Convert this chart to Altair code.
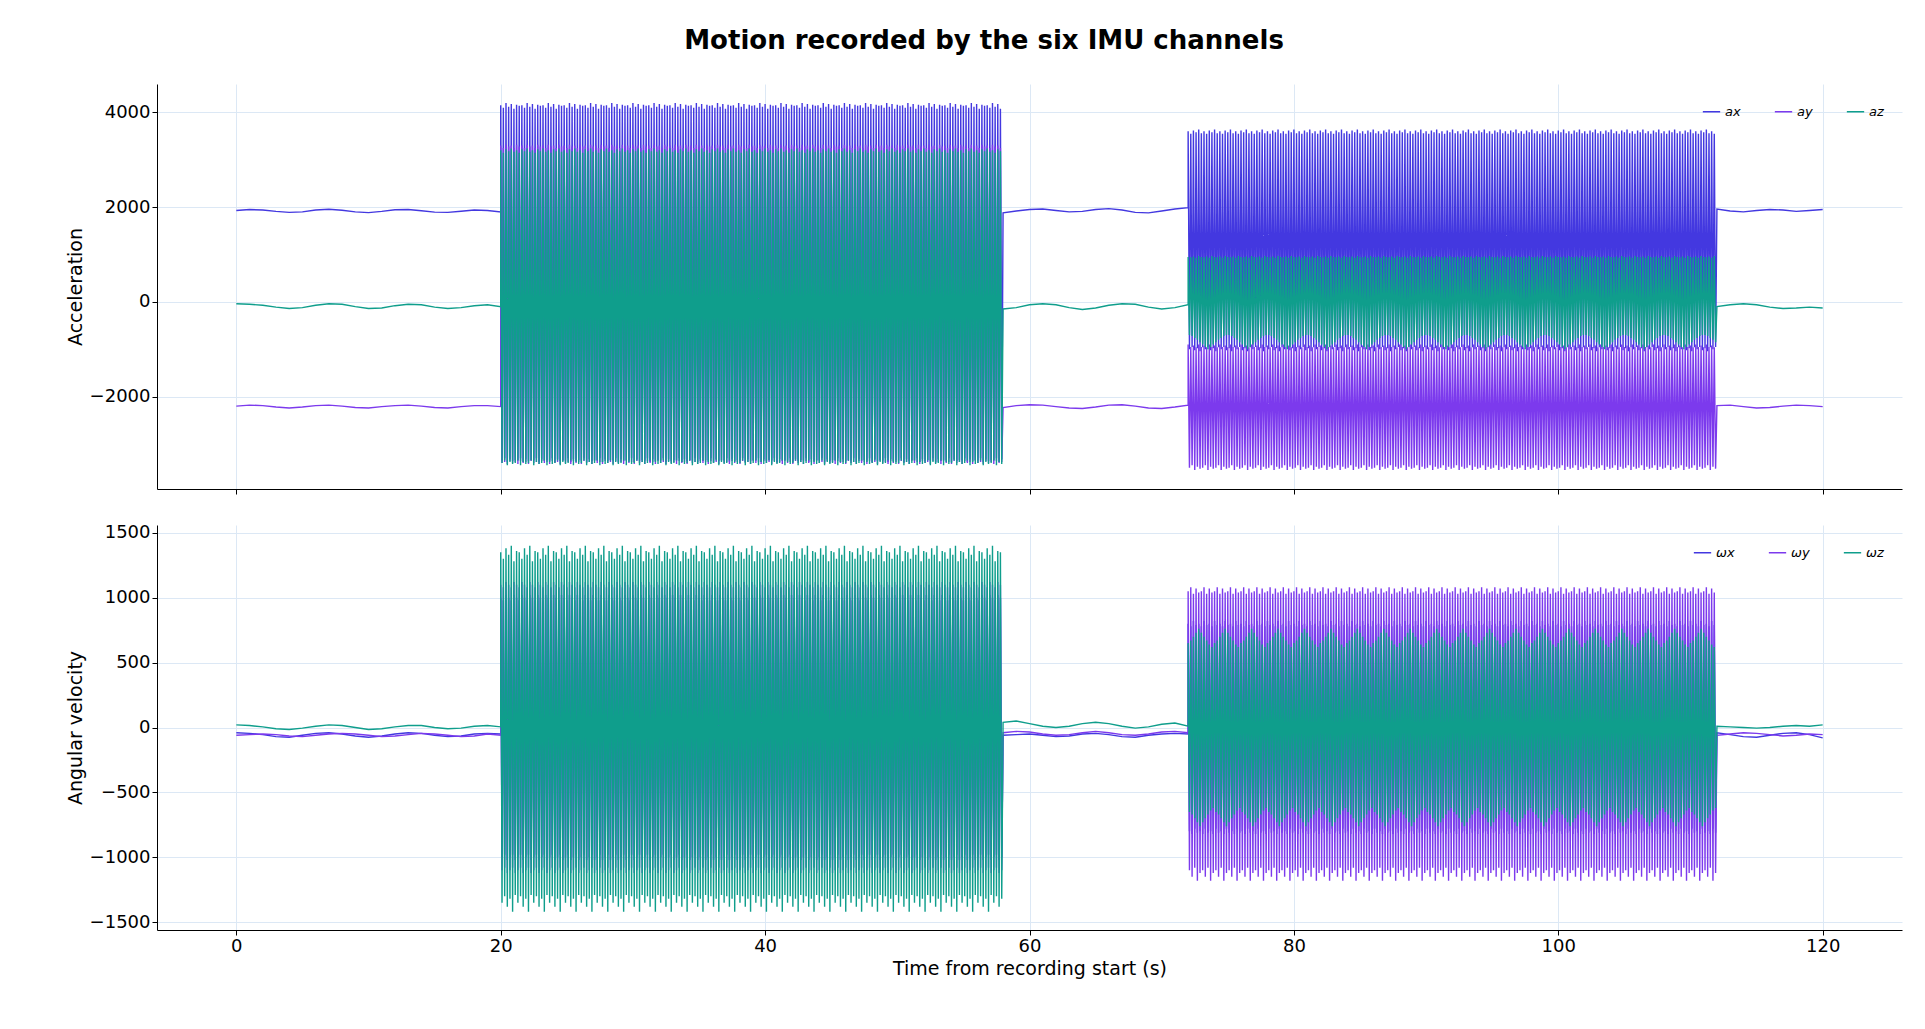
import altair as alt
import numpy as np
import pandas as pd

# segment boundaries (s)
quiet_t = [(0, 20), (58, 72), (112, 120)]
burst_t = [(20, 58), (72, 112)]

# quiet-segment readings, one value per second
ax_q = [[1930, 1950, 1940, 1910, 1890, 1900, 1940, 1955, 1935, 1900, 1885, 1910, 1945, 1950, 1925, 1895, 1890, 1915, 1940, 1930, 1900],
        [1880, 1920, 1950, 1960, 1930, 1900, 1910, 1950, 1970, 1940, 1890, 1880, 1920, 1960, 1990],
        [1960, 1920, 1900, 1930, 1950, 1940, 1910, 1930, 1950]]
ay_q = [[-2200, -2180, -2190, -2220, -2240, -2220, -2190, -2180, -2200, -2230, -2240, -2210, -2190, -2180, -2200, -2230, -2240, -2210, -2190, -2190, -2210],
        [-2230, -2190, -2170, -2180, -2210, -2240, -2250, -2220, -2180, -2170, -2200, -2240, -2250, -2220, -2180],
        [-2190, -2180, -2210, -2240, -2230, -2200, -2180, -2190, -2210]]
az_q = [[-40, -50, -70, -110, -140, -120, -70, -40, -50, -100, -140, -130, -80, -50, -60, -110, -140, -120, -80, -60, -100],
        [-150, -120, -60, -40, -60, -120, -160, -130, -70, -40, -50, -110, -150, -120, -60],
        [-100, -60, -40, -60, -110, -140, -130, -110, -130]]
wx_q = [[-40, -45, -55, -70, -75, -60, -45, -40, -50, -65, -75, -65, -50, -40, -45, -60, -70, -65, -50, -45, -50],
        [-60, -55, -50, -60, -70, -65, -50, -45, -55, -70, -75, -60, -50, -45, -50],
        [-40, -55, -70, -75, -60, -45, -40, -55, -80]]
wy_q = [[-60, -55, -50, -55, -65, -70, -60, -50, -45, -50, -60, -70, -65, -55, -45, -50, -60, -70, -65, -50, -60],
        [-40, -30, -35, -50, -60, -55, -40, -30, -40, -55, -60, -50, -35, -30, -40],
        [-60, -50, -40, -45, -55, -65, -60, -50, -55]]
wz_q = [[20, 15, 5, -10, -15, -5, 10, 20, 15, 0, -15, -10, 5, 15, 15, 0, -10, -5, 10, 15, 5],
        [40, 50, 30, 10, 0, 10, 30, 40, 30, 10, -5, 5, 25, 35, 10],
        [10, 5, 0, -5, 0, 10, 15, 10, 20]]

# burst envelopes: successive peak / trough readings, reused cycle after cycle
ax_hi = [[4150, 4100, 4200, 4120, 4180, 4080, 4160, 4140], [3600, 3550, 3620, 3580, 3640, 3560]]
ax_lo = [[-3350, -3300, -3380, -3320, -3360, -3340], [-1000, -950, -1020, -980, -1040, -960]]
ay_hi = [[3300, 3250, 3320, 3280], [-900, -950, -920, -960]]
ay_lo = [[-3400, -3380, -3420, -3360], [-3500, -3450, -3550, -3480, -3520]]
az_hi = [[3200, 3150, 3220, 3180, 3240, 3170], [950, 940, 960, 930, 970]]
az_lo = [[-3400, -3350, -3450, -3380, -3420],
         [-700, -720, -760, -800, -850, -900, -950, -1000, -950, -900, -850, -800, -760, -720, -700]]
wx_hi = [[1000, 980, 1020], [800, 780, 820, 790]]
wx_lo = [[-1000, -980, -1020], [-800, -820, -780, -810]]
wy_hi = [[1100, 1080, 1120], [1050, 1080, 1030, 1070, 1040]]
wy_lo = [[-1100, -1080, -1120], [-1100, -1150, -1080, -1180, -1120]]
wz_hi = [[1350, 1300, 1380, 1330, 1400, 1280, 1360], [650, 670, 700, 730, 760, 730, 700, 670, 640, 620]]
wz_lo = [[-1350, -1300, -1380, -1320, -1420, -1290], [-650, -670, -700, -730, -760, -730, -700, -670, -640, -620]]

step = 0.1  # half a cycle


def build(name, q, hi, lo):
    ts, vs = [], []
    for k in range(3):
        a, b = quiet_t[k]
        ts += list(np.linspace(a, b, len(q[k])))
        vs += q[k]
        if k < 2:
            a, b = burst_t[k]
            n = int(round((b - a) / step / 2))
            h = np.resize(hi[k], n)
            l = np.resize(lo[k], n)
            for i in range(n):
                ts += [a + 2 * i * step, a + (2 * i + 1) * step]
                vs += [h[i], l[i]]
    return pd.DataFrame({"t": ts, "v": vs, "ch": name})


acc = pd.concat([build("ax", ax_q, ax_hi, ax_lo), build("ay", ay_q, ay_hi, ay_lo), build("az", az_q, az_hi, az_lo)])
gyr = pd.concat([build("ωx", wx_q, wx_hi, wx_lo), build("ωy", wy_q, wy_hi, wy_lo), build("ωz", wz_q, wz_hi, wz_lo)])
acc["o"] = acc["ch"].map({"ax": 0, "ay": 1, "az": 2})
gyr["o"] = gyr["ch"].map({"ωx": 0, "ωy": 1, "ωz": 2})

colors = ["#4338e0", "#7c3aed", "#0f9e8c"]
grid = "#dce8f5"


def panel(df, names, ytitle, ydom, yvals, show_x):
    xax = alt.Axis(values=list(range(0, 121, 20)), grid=True, gridColor=grid, labels=show_x,
                   title="Time from recording start (s)" if show_x else None, tickColor="black", domainColor="black")
    return alt.Chart(df).mark_line(strokeWidth=1.4).encode(
        x=alt.X("t:Q", scale=alt.Scale(domain=[-6, 126], nice=False), axis=xax),
        y=alt.Y("v:Q", scale=alt.Scale(domain=ydom, nice=False),
                axis=alt.Axis(values=yvals, grid=True, gridColor=grid, title=ytitle, format="d",
                              tickColor="black", domainColor="black")),
        color=alt.Color("ch:N", sort=names, scale=alt.Scale(domain=names, range=colors),
                        legend=alt.Legend(orient="top-right", direction="horizontal", title=None,
                                          symbolType="stroke", symbolSize=300, symbolStrokeWidth=1.5,
                                          labelFontStyle="italic", labelFontSize=13, columnPadding=30)),
        order="o:Q",
    ).properties(width=1745, height=405)


top = panel(acc, ["ax", "ay", "az"], "Acceleration", [-3950, 4600], [-2000, 0, 2000, 4000], False)
bot = panel(gyr, ["ωx", "ωy", "ωz"], "Angular velocity", [-1560, 1560], list(range(-1500, 1501, 500)), True)

chart = alt.vconcat(top, bot, spacing=28).resolve_scale(color="independent").properties(
    title=alt.TitleParams("Motion recorded by the six IMU channels", fontSize=26, fontWeight="bold",
                          anchor="middle", offset=30),
    padding={"left": 58, "top": 20, "right": 5, "bottom": 5},
).configure_view(stroke=None).configure_axis(
    labelFontSize=18, titleFontSize=19, titleFontWeight="normal", labelFont="DejaVu Sans", titleFont="DejaVu Sans"
).configure_title(font="DejaVu Sans").configure_legend(labelFont="DejaVu Sans")

chart.save("out.html", embed_options={"renderer": "svg", "actions": False})
